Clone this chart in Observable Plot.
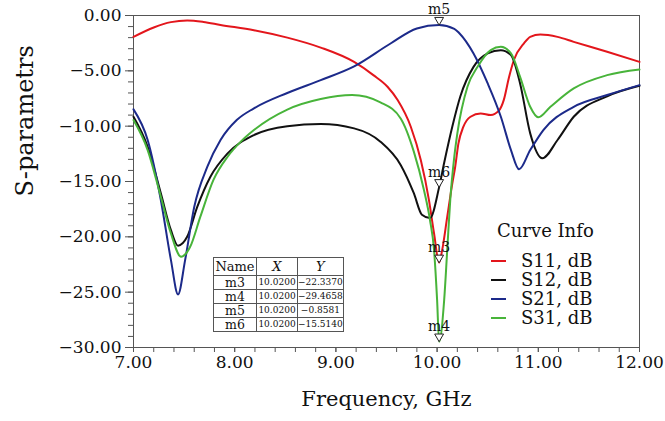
<!DOCTYPE html>
<html>
<head>
<meta charset="utf-8">
<script src="https://cdn.jsdelivr.net/npm/d3@7"></script>
<script src="https://cdn.jsdelivr.net/npm/@observablehq/plot@0.6"></script>
<style>
  html, body { margin: 0; padding: 0; background: white; }
  #wrap { position: relative; width: 665px; height: 421px; font-family: "DejaVu Serif", serif; color: #111; }
  #legend { position: absolute; left: 488px; top: 221px; font-size: 18px; line-height: 19px; }
  #legend .title { margin-left: 9px; margin-bottom: 11px; }
  #legend .row { display: flex; align-items: center; }
  #legend .sw { width: 15px; height: 2px; margin-left: 3px; margin-right: 15px; }
  #mtable { position: absolute; left: 213px; top: 257px; border-collapse: collapse; background: white; table-layout: fixed; }
  #mtable td, #mtable th { border: 1px solid #555; padding: 0; text-align: center; font-weight: normal; overflow: hidden; white-space: nowrap; }
  #mtable th { font-size: 13px; height: 17px; line-height: 17px; }
  #mtable th.it { font-style: italic; }
  #mtable td { height: 13px; line-height: 13px; }
  #mtable td.n { font-size: 12.5px; width: 42px; }
  #mtable td.v { font-size: 9px; width: 40px; }
</style>
</head>
<body>
<div id="wrap"></div>
<script>
// ---- data ----
const seriesNames = ["S11, dB", "S12, dB", "S21, dB", "S31, dB"];
const seriesColors = ["#e3161c", "#111111", "#1c2a8a", "#48b43a"];

const s11F = [7.00, 7.20, 7.37, 7.53, 7.69, 7.86, 8.19, 8.52, 8.85, 9.18, 9.37, 9.51, 9.61, 9.74, 9.84, 9.92, 9.97, 10.02, 10.05, 10.10, 10.15, 10.18, 10.21, 10.26, 10.33, 10.43, 10.53, 10.61, 10.66, 10.71, 10.76, 10.86, 10.92, 11.02, 11.19, 11.35, 11.68, 12.00];
const s11 = [-1.93, -1.08, -0.60, -0.45, -0.58, -0.85, -1.33, -2.00, -2.90, -4.20, -5.39, -6.44, -7.64, -10.05, -13.1, -16.7, -19.7, -22.34, -21.2, -18.2, -15.2, -13.6, -11.6, -10.05, -9.15, -8.85, -9.0, -8.6, -7.6, -5.6, -4.0, -2.5, -1.93, -1.72, -1.93, -2.38, -3.28, -4.19];

const s12F = [7.00, 7.14, 7.27, 7.37, 7.44, 7.53, 7.63, 7.76, 7.93, 8.19, 8.52, 8.85, 9.18, 9.44, 9.64, 9.77, 9.85, 9.93, 10.02, 10.07, 10.15, 10.23, 10.36, 10.50, 10.63, 10.73, 10.82, 10.92, 11.04, 11.19, 11.35, 11.68, 12.00];
const s12 = [-9.15, -11.86, -16.06, -19.4, -20.8, -20.0, -17.3, -14.57, -12.46, -10.8, -10.0, -9.81, -10.2, -11.4, -13.5, -16.06, -18.0, -18.3, -15.51, -13.3, -10.05, -7.3, -4.64, -3.43, -3.13, -3.58, -6.14, -10.65, -12.9, -11.25, -9.15, -7.3, -6.35];

const s21F = [7.00, 7.14, 7.27, 7.37, 7.44, 7.51, 7.60, 7.73, 7.86, 8.02, 8.19, 8.52, 8.85, 9.18, 9.54, 9.80, 10.02, 10.17, 10.22, 10.36, 10.50, 10.63, 10.73, 10.81, 10.92, 11.05, 11.35, 11.68, 12.00];
const s21 = [-8.48, -11.25, -16.67, -22.1, -25.2, -22.1, -17.3, -13.66, -11.25, -9.45, -8.39, -7.0, -5.84, -4.6, -2.53, -1.17, -0.86, -1.2, -1.6, -3.43, -6.14, -9.15, -12.16, -13.9, -12.16, -10.35, -8.25, -7.19, -6.29];

const s31F = [7.00, 7.14, 7.27, 7.37, 7.47, 7.56, 7.66, 7.79, 7.93, 8.06, 8.19, 8.52, 8.85, 9.16, 9.44, 9.64, 9.77, 9.87, 9.93, 9.97, 10.00, 10.02, 10.07, 10.10, 10.13, 10.17, 10.20, 10.30, 10.40, 10.53, 10.63, 10.73, 10.82, 10.92, 11.00, 11.12, 11.35, 11.68, 12.00];
const s31 = [-9.45, -12.16, -16.37, -19.7, -21.8, -20.9, -18.2, -14.86, -12.76, -11.4, -10.35, -8.5, -7.55, -7.19, -7.85, -9.3, -12.3, -15.77, -18.5, -21.2, -25.7, -29.47, -25.7, -21.2, -16.67, -12.76, -10.65, -6.44, -4.64, -3.13, -2.83, -3.43, -5.54, -8.25, -9.2, -8.25, -6.59, -5.39, -4.87];

const markerNames = ["m3", "m4", "m5", "m6"];
const markerX = [10.02, 10.02, 10.02, 10.02];
const markerY = [-22.337, -29.4658, -0.8581, -15.514];
const markerXText = ["10.0200", "10.0200", "10.0200", "10.0200"];
const markerYText = ["-22.3370", "-29.4658", "-0.8581", "-15.5140"];

const xTicks = [7, 8, 9, 10, 11, 12];
const yTicks = [0, -5, -10, -15, -20, -25, -30];

// ---- build tables ----
const seriesF = [s11F, s12F, s21F, s31F];
const seriesV = [s11, s12, s21, s31];
const rows = seriesNames.flatMap((name, i) => seriesF[i].map((f, j) => ({series: name, f, v: seriesV[i][j]})));
const markers = markerNames.map((m, i) => ({name: m, f: markerX[i], v: markerY[i]}));
const xMinor = d3.range(0, 26).map(i => 7 + i * 0.2);
const yMinor = d3.range(-30, 1, 1);
const fmt = d3.format(".2f");

const chart = Plot.plot({
  width: 665,
  height: 421,
  marginLeft: 133,
  marginRight: 26,
  marginTop: 15,
  marginBottom: 74,
  x: {domain: [7, 12]},
  y: {domain: [-30, 0]},
  color: {domain: seriesNames, range: seriesColors},
  style: {fontFamily: "DejaVu Serif", fontSize: "17px", color: "#111", background: "white", overflow: "visible"},
  marks: [
    Plot.axisX({ticks: xMinor, tickSize: 5, tickFormat: () => "", label: null, stroke: "#555"}),
    Plot.axisX({ticks: xTicks, tickSize: 5, tickPadding: 3, tickFormat: fmt, label: null, stroke: "#555", fontSize: 17}),
    Plot.axisY({ticks: yMinor, tickSize: 5, tickFormat: () => "", label: null, stroke: "#555"}),
    Plot.axisY({ticks: yTicks, tickSize: 8, tickPadding: 4, tickFormat: fmt, label: null, stroke: "#555", fontSize: 17}),
    Plot.frame({stroke: "#555"}),
    Plot.line(rows, {x: "f", y: "v", z: "series", stroke: "series", strokeWidth: 2, curve: "monotone-x"}),
    Plot.dot(markers, {x: "f", y: "v", symbol: "triangle", rotate: 180, r: 3.3, dy: -5, stroke: "#222", strokeWidth: 1, fill: "white"}),
    Plot.text(markers, {x: "f", y: "v", text: "name", dy: -15, fontSize: 14, fill: "#111"}),
    Plot.text(["S-parametrs"], {frameAnchor: "left", text: d => d, rotate: -90, dx: -108, dy: 15, fontSize: 24}),
    Plot.text(["Frequency, GHz"], {frameAnchor: "bottom", text: d => d, dy: 58, fontSize: 21})
  ]
});

const wrap = document.getElementById("wrap");
wrap.appendChild(chart);

// legend
const legend = document.createElement("div");
legend.id = "legend";
legend.innerHTML = `<div class="title">Curve Info</div>` +
  seriesNames.map((n, i) => `<div class="row"><span class="sw" style="background:${seriesColors[i]}"></span><span>${n}</span></div>`).join("");
wrap.appendChild(legend);

// marker table
const tbl = document.createElement("table");
tbl.id = "mtable";
tbl.innerHTML = `<tr><th style="width:42px">Name</th><th class="it" style="width:40px">X</th><th class="it" style="width:40px">Y</th></tr>` +
  markerNames.map((m, i) => `<tr><td class="n">${m}</td><td class="v">${markerXText[i]}</td><td class="v">${markerYText[i].replace("-", "\u2212")}</td></tr>`).join("");
wrap.appendChild(tbl);
</script>
</body>
</html>
